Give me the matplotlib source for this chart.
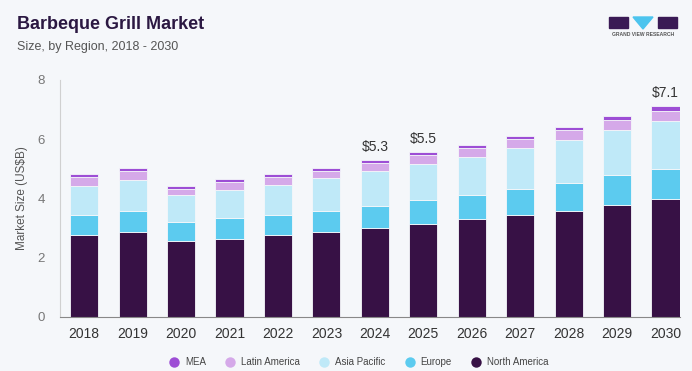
import matplotlib.pyplot as plt
import matplotlib.patches as mpatches
from matplotlib.lines import Line2D

years = ['2018', '2019', '2020', '2021', '2022', '2023', '2024',
         '2025', '2026', '2027', '2028', '2029', '2030']
north_america = [2.78, 2.88, 2.56, 2.64, 2.76, 2.87, 3.01, 3.14, 3.29, 3.44, 3.59, 3.77, 3.98]
europe = [0.67, 0.70, 0.63, 0.69, 0.67, 0.72, 0.74, 0.81, 0.84, 0.89, 0.93, 1.02, 1.02]
asia_pacific = [0.98, 1.05, 0.91, 0.97, 1.04, 1.10, 1.18, 1.22, 1.27, 1.37, 1.45, 1.51, 1.62]
latin_america = [0.29, 0.28, 0.23, 0.26, 0.25, 0.25, 0.26, 0.28, 0.29, 0.30, 0.34, 0.35, 0.34]
mea = [0.09, 0.11, 0.09, 0.09, 0.10, 0.10, 0.10, 0.11, 0.11, 0.11, 0.11, 0.12, 0.15]
callouts = {'2024': '$5.3', '2025': '$5.5', '2030': '$7.1'}

series = [
    ('North America', north_america, '#371145'),
    ('Europe', europe, '#5ccbef'),
    ('Asia Pacific', asia_pacific, '#bfe9f8'),
    ('Latin America', latin_america, '#d5a9e9'),
    ('MEA', mea, '#9d4ed5'),
]

plt.rcParams['font.family'] = ['Liberation Sans', 'DejaVu Sans']

bg = '#f5f7fa'
fig = plt.figure(figsize=(6.92, 3.71), dpi=100, facecolor=bg)
ax = fig.add_axes([0.0867, 0.1456, 0.896, 0.639], facecolor=bg)

x = list(range(len(years)))
bottom = [0.0] * len(years)
for name, vals, col in series:
    ax.bar(x, vals, 0.58, bottom=bottom, color=col, edgecolor=bg, linewidth=0.6)
    bottom = [b + v for b, v in zip(bottom, vals)]

for i, y in enumerate(years):
    if y in callouts:
        ax.text(i, bottom[i] + 0.2, callouts[y], ha='center', va='bottom',
                fontsize=10, color='#333333')

ax.set_xlim(-0.5, 12.3)
ax.set_ylim(0, 8)
ax.set_yticks([0, 2, 4, 6, 8])
ax.set_xticks(x)
ax.set_xticklabels(years)
ax.tick_params(axis='x', length=0, labelsize=10, colors='#333333', pad=7)
ax.tick_params(axis='y', length=0, labelsize=9.5, colors='#777777', pad=11)
ax.spines['top'].set_visible(False)
ax.spines['right'].set_visible(False)
ax.spines['left'].set_color('#d0d0d0')
ax.spines['bottom'].set_color('#888888')
ax.set_ylabel('Market Size (US$B)', fontsize=8.5, color='#555555', labelpad=7)

fig.text(0.025, 0.935, 'Barbeque Grill Market', fontsize=13, fontweight='bold',
         color='#2b1842', va='center')
fig.text(0.025, 0.872, 'Size, by Region, 2018 - 2030', fontsize=9,
         color='#555555', va='center')

# logo
fig.patches.append(mpatches.Rectangle((609 / 692, 1 - 28 / 371), 19 / 692, 11 / 371,
                                      transform=fig.transFigure, color='#3a1a55'))
fig.patches.append(mpatches.Polygon([(633 / 692, 1 - 17 / 371), (653 / 692, 1 - 17 / 371),
                                     (643 / 692, 1 - 29 / 371)],
                                    transform=fig.transFigure, color='#4cc4ee'))
fig.patches.append(mpatches.Rectangle((658 / 692, 1 - 28 / 371), 19 / 692, 11 / 371,
                                      transform=fig.transFigure, color='#3a1a55'))
fig.text(643 / 692, 1 - 35 / 371, 'GRAND VIEW RESEARCH', fontsize=3.6, fontweight='bold',
         color='#555555', ha='center', va='center')

handles = [Line2D([], [], marker='o', linestyle='', markersize=7.5, color=col,
                  markeredgewidth=0) for _, _, col in series[::-1]]
labels = [name for name, _, _ in series[::-1]]
fig.legend(handles, labels, loc='center', bbox_to_anchor=(0.515, 0.024), ncol=5,
           frameon=False, fontsize=7, handletextpad=0.1, columnspacing=1.5,
           labelcolor='#444444')

plt.savefig('out.png', dpi=100, facecolor=bg)
